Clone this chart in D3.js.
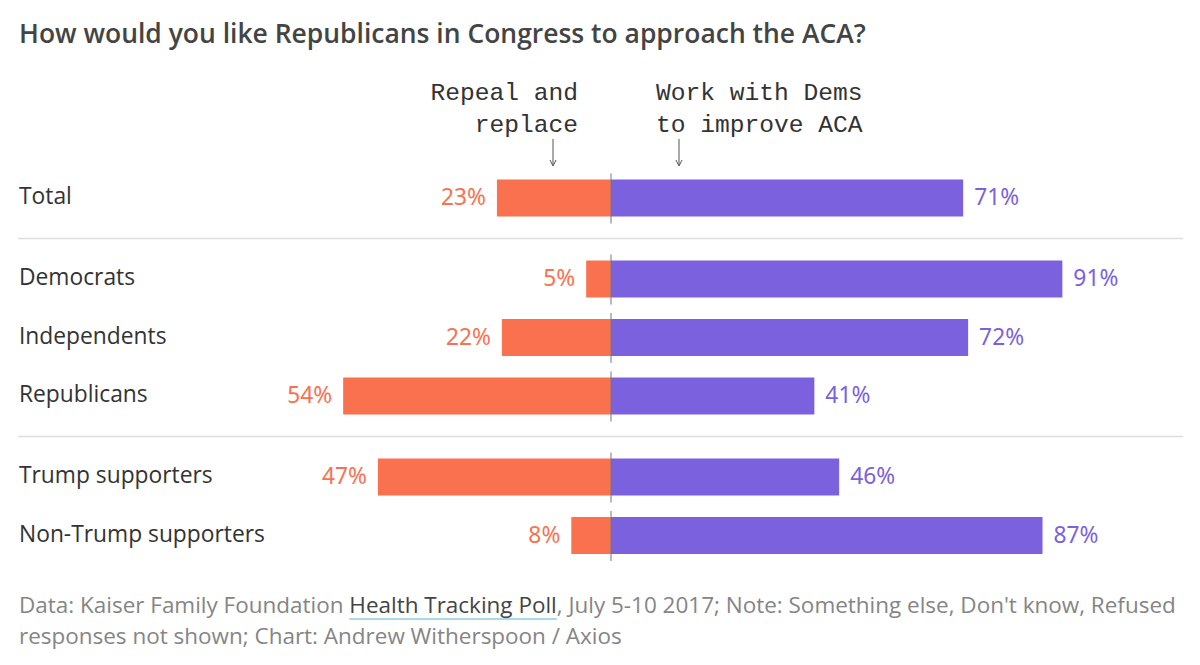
<!DOCTYPE html>
<html><head><meta charset="utf-8">
<script src="https://cdn.jsdelivr.net/npm/d3@7/dist/d3.min.js"></script>
<style>body{margin:0;background:#fff}svg{display:block}</style>
</head><body><svg id="c" width="1200" height="665"></svg>
<script>
const categories = ["Total","Democrats","Independents","Republicans","Trump supporters","Non-Trump supporters"];
const groups = [0,1,1,1,2,2];
const repeal = [23,5,22,54,47,8];
const workWith = [71,91,72,41,46,87];
const seriesNames = ["Repeal and\nreplace","Work with Dems\nto improve ACA"];

const svg = d3.select("#c");
const cx = 611;
const x = d3.scaleLinear().domain([0,100]).range([0,496]);
const gap = 22.5;
const y = d3.scaleBand().domain(categories).range([168.75, 168.75 + 58.5*categories.length]).paddingInner(0.36).paddingOuter(0.18);
const yc = (c,i) => y(c) + y.bandwidth()/2 + groups[i]*gap;
const bh = 37;
const orange = "#fa7150", purple = "#7b61de";
const sans = "'Open Sans','Noto Sans',sans-serif";
const numf = "'Noto Sans','Open Sans',sans-serif";
const mono = "'Liberation Mono',monospace";

// fit helper: scale font-size so that a text node reaches target width
function fit(sel, target){
  const n = sel.node(); const w = n.getComputedTextLength();
  const fs = parseFloat(sel.attr("font-size"));
  if (w>0) sel.attr("font-size", (fs*target/w).toFixed(2));
}

const title = svg.append("text").attr("x",19).attr("y",43).attr("font-family",sans).attr("font-weight",600)
  .attr("font-size",23).attr("fill","#444").text("How would you like Republicans in Congress to approach the ACA?");
fit(title, 847);

// separators
const sepY = [(yc(categories[0],0)+yc(categories[1],1))/2, (yc(categories[3],3)+yc(categories[4],4))/2];
svg.selectAll("line.sep").data(sepY).join("line").attr("class","sep")
  .attr("x1",18).attr("x2",1183).attr("y1",d=>d).attr("y2",d=>d).attr("stroke","#ddd").attr("stroke-width",1.5);

const rows = svg.selectAll("g.row").data(categories).join("g").attr("class","row")
  .attr("transform",(d,i)=>`translate(0,${yc(d,i)})`);

const catLab = rows.append("text").attr("x",19).attr("y",6).attr("font-family",sans).attr("font-size",22)
  .attr("fill","#333").text(d=>d);
// size category labels from the longest one (Non-Trump supporters ≈ 246px wide)
{
  const last = d3.select(catLab.nodes()[categories.length-1]);
  const w = last.node().getComputedTextLength();
  catLab.attr("font-size", (22*246/w).toFixed(2));
}

rows.append("rect").attr("x",(d,i)=>cx - x(repeal[i])).attr("y",-bh/2).attr("width",(d,i)=>x(repeal[i]))
  .attr("height",bh).attr("fill",orange);
rows.append("rect").attr("x",cx).attr("y",-bh/2).attr("width",(d,i)=>x(workWith[i]))
  .attr("height",bh).attr("fill",purple);
rows.append("line").attr("x1",cx).attr("x2",cx).attr("y1",-bh/2-6).attr("y2",bh/2+7)
  .attr("stroke","#777").attr("stroke-width",1);

const lv = rows.append("text").attr("x",(d,i)=>cx - x(repeal[i]) - 11).attr("y",7).attr("text-anchor","end")
  .attr("font-family",numf).attr("font-size",21).attr("fill",orange).text((d,i)=>repeal[i]+"%");
const rv = rows.append("text").attr("x",(d,i)=>cx + x(workWith[i]) + 11).attr("y",7).attr("text-anchor","start")
  .attr("font-family",numf).attr("font-size",21).attr("fill",purple).text((d,i)=>workWith[i]+"%");
{
  const w = lv.nodes()[0].getComputedTextLength();
  const fs = (21*45/w).toFixed(2);
  lv.attr("font-size",fs); rv.attr("font-size",fs);
}

// annotations
const ann = [{t:seriesNames[0], x:578, anchor:"end", ax:553},{t:seriesNames[1], x:656, anchor:"start", ax:679}];
ann.forEach(a=>{
  const lines = a.t.split("\n");
  const t = svg.append("text").attr("font-family",mono).attr("font-size",24.6)
    .attr("fill","#333").attr("text-anchor",a.anchor);
  lines.forEach((l,k)=>t.append("tspan").attr("x",a.x).attr("y",100+k*32).text(l));
  svg.append("line").attr("x1",a.ax).attr("x2",a.ax).attr("y1",139).attr("y2",165).attr("stroke","#555").attr("stroke-width",1);
  svg.append("path").attr("d",`M${a.ax-3},${160} L${a.ax},${166} L${a.ax+3},${160}`).attr("fill","none").attr("stroke","#555").attr("stroke-width",1);
});

// footnote
const fn = svg.append("text").attr("font-family",sans).attr("font-size",20).attr("fill","#858585");
const l1 = fn.append("tspan").attr("x",19).attr("y",613);
l1.append("tspan").text("Data: Kaiser Family Foundation ");
l1.append("tspan").attr("id","link").text("Health Tracking Poll");
l1.append("tspan").text(", July 5-10 2017; Note: Something else, Don't know, Refused");
fn.append("tspan").attr("x",19).attr("y",644).text("responses not shown; Chart: Andrew Witherspoon / Axios");
{
  // fit first line to ≈1157px
  const tmp = svg.append("text").attr("font-family",sans).attr("font-size",20)
    .text("Data: Kaiser Family Foundation Health Tracking Poll, July 5-10 2017; Note: Something else, Don't know, Refused");
  const w = tmp.node().getComputedTextLength(); tmp.remove();
  fn.attr("font-size",(20*1157/w).toFixed(2));
}
const link = d3.select("#link").attr("fill","#444").node();
const bb = link.getBBox();
svg.append("line").attr("x1",bb.x).attr("x2",bb.x+bb.width).attr("y1",619).attr("y2",619).attr("stroke","#a8dbe3").attr("stroke-width",2);
</script></body></html>
